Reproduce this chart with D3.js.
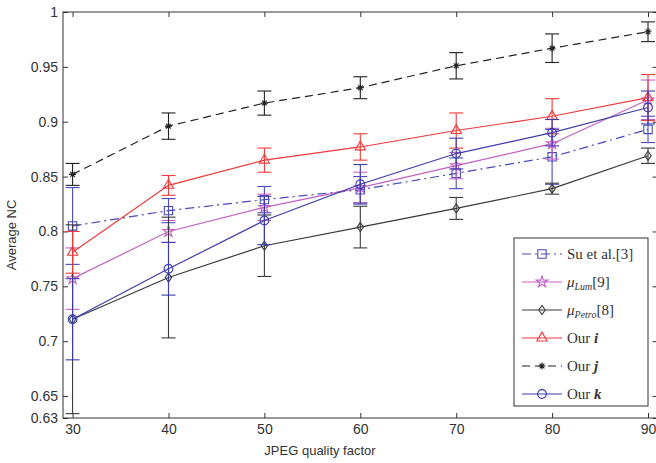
<!DOCTYPE html>
<html>
<head>
<meta charset="utf-8">
<script src="https://cdn.jsdelivr.net/npm/d3@7"></script>
<style>
  body { margin: 0; background: #fff; }
  svg { display: block; }
  .tick text { font-family: "Liberation Sans", Arial, sans-serif; font-size: 14px; fill: #333; }
</style>
</head>
<body>
<svg id="chart" width="656" height="463"></svg>
<script>
// JPEG quality factors (x) and average NC per method, with error bar half-lengths
qualities = [30, 40, 50, 60, 70, 80, 90];

su       = [0.805, 0.819, 0.829, 0.838, 0.853, 0.868, 0.893];
suErr    = [0.035, 0.011, 0.012, 0.012, 0.014, 0.025, 0.012];
lum      = [0.757, 0.800, 0.822, 0.840, 0.860, 0.880, 0.920];
lumErr   = [0.028, 0.010, 0.012, 0.014, 0.012, 0.014, 0.018];
petro    = [0.720, 0.758, 0.787, 0.804, 0.821, 0.839, 0.869];
petroErr = [0.086, 0.055, 0.028, 0.019, 0.010, 0.005, 0.007];
ourI     = [0.781, 0.842, 0.865, 0.877, 0.892, 0.905, 0.922];
ourIErr  = [0.019, 0.009, 0.011, 0.012, 0.016, 0.016, 0.021];
ourJ     = [0.852, 0.896, 0.917, 0.931, 0.951, 0.967, 0.982];
ourJErr  = [0.010, 0.012, 0.011, 0.010, 0.012, 0.013, 0.009];
ourK     = [0.720, 0.766, 0.810, 0.843, 0.871, 0.890, 0.913];
ourKErr  = [0.037, 0.024, 0.022, 0.018, 0.014, 0.012, 0.015];

yTicks = [0.63, 0.65, 0.7, 0.75, 0.8, 0.85, 0.9, 0.95, 1];
yTickLabels = ["0.63", "0.65", "0.7", "0.75", "0.8", "0.85", "0.9", "0.95", "1"];

svg = d3.select('#chart');

// plot box (right edge falls just outside the picture, like the original)
x = d3.scaleLinear().domain([29, 91]).range([63, 657.6]);
y = d3.scaleLinear().domain([0.63, 1]).range([418, 12]);

// series styles
series = [
  { name: 'su',    vals: su,    err: suErr,    color: '#4a4ac0', dash: '9,4,2,4', marker: 'square' },
  { name: 'lum',   vals: lum,   err: lumErr,   color: '#c460c4', dash: null,      marker: 'star' },
  { name: 'petro', vals: petro, err: petroErr, color: '#3a3a3a', dash: null,      marker: 'diamond' },
  { name: 'i',     vals: ourI,  err: ourIErr,  color: '#ee3a3a', dash: null,      marker: 'triangle' },
  { name: 'j',     vals: ourJ,  err: ourJErr,  color: '#222222', dash: '8,5',     marker: 'asterisk' },
  { name: 'k',     vals: ourK,  err: ourKErr,  color: '#3c3cae', dash: null,      marker: 'circle' }
];

function markerPath(type) {
  if (type === 'square') return d3.symbol(d3.symbolSquare, 70)();
  if (type === 'star') return d3.symbol(d3.symbolStar, 40)();
  if (type === 'triangle') return d3.symbol(d3.symbolTriangle, 45)();
  if (type === 'circle') return d3.symbol(d3.symbolCircle, 60)();
  if (type === 'diamond') return 'M0,-4.5L3.2,0L0,4.5L-3.2,0Z';
  if (type === 'asterisk') return 'M-3.5,0L3.5,0M0,-3.5L0,3.5M-2.4,-2.4L2.4,2.4M-2.4,2.4L2.4,-2.4';
}

// axes: ticks point inward, MATLAB style
bottom = svg.append('g')
  .attr('transform', 'translate(0,418)')
  .call(d3.axisBottom(x).tickValues(qualities).tickSizeInner(-5).tickSizeOuter(0).tickPadding(6));
top = svg.append('g')
  .attr('transform', 'translate(0,12)')
  .call(d3.axisTop(x).tickValues(qualities).tickSizeInner(-5).tickSizeOuter(0).tickFormat(''));
left = svg.append('g')
  .attr('transform', 'translate(63,0)')
  .call(d3.axisLeft(y).tickValues(yTicks).tickSizeInner(-5).tickSizeOuter(0).tickPadding(5)
    .tickFormat((d, i) => yTickLabels[i]));
right = svg.append('g')
  .attr('transform', 'translate(657.6,0)')
  .call(d3.axisRight(y).tickValues(yTicks).tickSizeInner(-5).tickSizeOuter(0).tickFormat(''));

svg.selectAll('.domain').remove();
svg.selectAll('.tick line').attr('stroke', '#333');

svg.append('rect')
  .attr('x', 63).attr('y', 12)
  .attr('width', 657.6 - 63).attr('height', 418 - 12)
  .attr('fill', 'none').attr('stroke', '#333').attr('stroke-width', 1);

// axis titles
svg.append('text')
  .attr('x', 320).attr('y', 455)
  .attr('text-anchor', 'middle')
  .style('font-family', '"Liberation Sans", Arial, sans-serif').style('font-size', '13px').style('fill', '#333')
  .text('JPEG quality factor');
svg.append('text')
  .attr('transform', 'translate(16,235) rotate(-90)')
  .attr('text-anchor', 'middle')
  .style('font-family', '"Liberation Sans", Arial, sans-serif').style('font-size', '13px').style('fill', '#333')
  .text('Average NC');

// draw each series: error bars, line, markers
capW = 7;
series.forEach(s => {
  pts = qualities.map((q, i) => ({ q: q, v: s.vals[i], e: s.err[i] }));
  g = svg.append('g').attr('class', 'series-' + s.name);

  eb = g.selectAll('.eb').data(pts).enter().append('g').attr('class', 'eb')
    .attr('stroke', s.color).attr('stroke-width', 1.1);
  eb.append('line')
    .attr('x1', d => x(d.q)).attr('x2', d => x(d.q))
    .attr('y1', d => y(d.v - d.e)).attr('y2', d => y(d.v + d.e));
  eb.append('line')
    .attr('x1', d => x(d.q) - capW).attr('x2', d => x(d.q) + capW)
    .attr('y1', d => y(d.v + d.e)).attr('y2', d => y(d.v + d.e));
  eb.append('line')
    .attr('x1', d => x(d.q) - capW).attr('x2', d => x(d.q) + capW)
    .attr('y1', d => y(d.v - d.e)).attr('y2', d => y(d.v - d.e));

  line = d3.line().x(d => x(d.q)).y(d => y(d.v));
  g.append('path')
    .datum(pts)
    .attr('d', line)
    .attr('fill', 'none')
    .attr('stroke', s.color)
    .attr('stroke-width', 1.2)
    .attr('stroke-dasharray', s.dash);

  g.selectAll('.mk').data(pts).enter().append('path')
    .attr('class', 'mk')
    .attr('transform', d => 'translate(' + x(d.q) + ',' + y(d.v) + ')')
    .attr('d', markerPath(s.marker))
    .attr('fill', 'none')
    .attr('stroke', s.color)
    .attr('stroke-width', 1.1);
});

// legend
legX = 514; legY = 238; legW = 134; legH = 168;
leg = svg.append('g');
leg.append('rect')
  .attr('x', legX).attr('y', legY).attr('width', legW).attr('height', legH)
  .attr('fill', '#fff').attr('stroke', '#333').attr('stroke-width', 1);

legendLabels = [
  [{ t: 'Su et al.[3]' }],
  [{ t: 'μ', it: true }, { t: 'Lum', it: true, sub: true }, { t: '[9]' }],
  [{ t: 'μ', it: true }, { t: 'Petro', it: true, sub: true }, { t: '[8]' }],
  [{ t: 'Our ' }, { t: 'i', it: true, b: true }],
  [{ t: 'Our ' }, { t: 'j', it: true, b: true }],
  [{ t: 'Our ' }, { t: 'k', it: true, b: true }]
];

series.forEach((s, i) => {
  ly = legY + 16 + i * 28;
  row = leg.append('g');
  row.append('line')
    .attr('x1', 522).attr('x2', 562).attr('y1', ly).attr('y2', ly)
    .attr('stroke', s.color).attr('stroke-width', 1.2)
    .attr('stroke-dasharray', s.dash);
  row.append('path')
    .attr('transform', 'translate(542,' + ly + ')')
    .attr('d', markerPath(s.marker))
    .attr('fill', 'none').attr('stroke', s.color).attr('stroke-width', 1.1);
  txt = row.append('text')
    .attr('x', 567).attr('y', ly + 5)
    .style('font-family', '"Liberation Serif", "Times New Roman", serif')
    .style('font-size', '15px').style('fill', '#333');
  legendLabels[i].forEach(p => {
    ts = txt.append('tspan').text(p.t);
    if (p.it) ts.style('font-style', 'italic');
    if (p.b) ts.style('font-weight', 'bold');
    if (p.sub) ts.attr('baseline-shift', '-25%').style('font-size', '10px');
  });
});
</script>
</body>
</html>
